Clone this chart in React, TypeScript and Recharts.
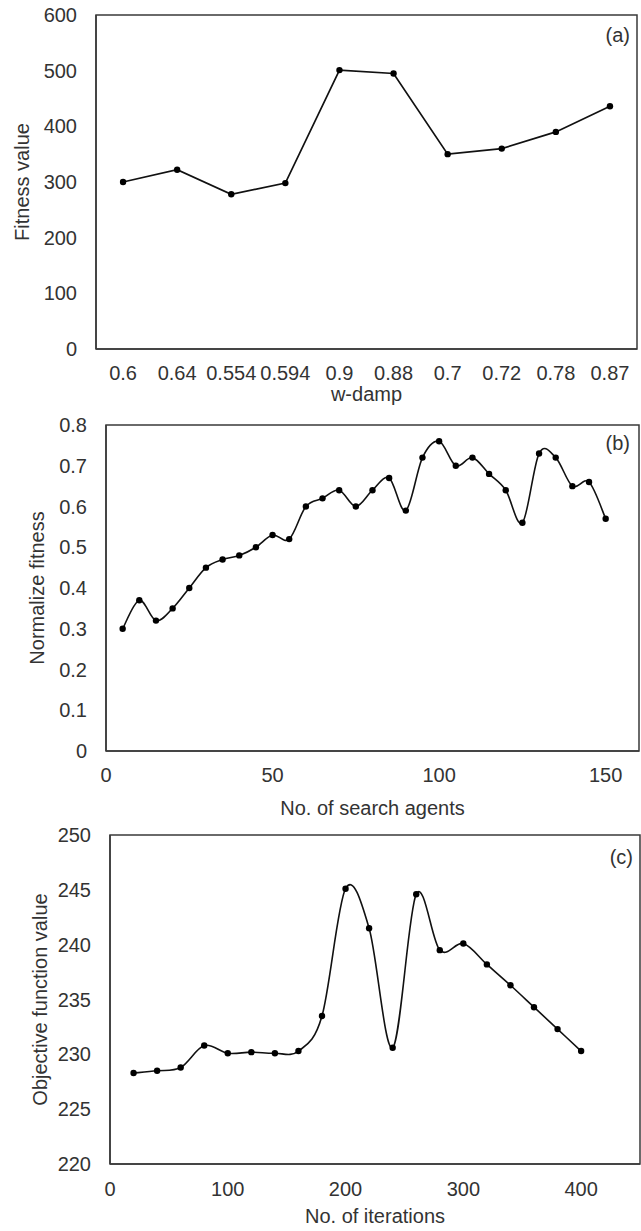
import { LineChart, Line, XAxis, YAxis, ReferenceArea } from 'recharts';

// (a) fitness vs w-damp
const dampLabels = ['0.6', '0.64', '0.554', '0.594', '0.9', '0.88', '0.7', '0.72', '0.78', '0.87'];
const dampFitness = [300, 322, 278, 298, 501, 495, 350, 360, 390, 436];
const fitnessDomain = [0, 600];
const fitnessTicks = [0, 100, 200, 300, 400, 500, 600];

// (b) normalized fitness vs number of search agents
const agentCounts = [5, 10, 15, 20, 25, 30, 35, 40, 45, 50, 55, 60, 65, 70, 75, 80, 85, 90, 95, 100, 105, 110, 115, 120, 125, 130, 135, 140, 145, 150];
const agentFitness = [0.3, 0.37, 0.32, 0.35, 0.4, 0.45, 0.47, 0.48, 0.5, 0.53, 0.52, 0.6, 0.62, 0.64, 0.6, 0.64, 0.67, 0.59, 0.72, 0.76, 0.7, 0.72, 0.68, 0.64, 0.56, 0.73, 0.72, 0.65, 0.66, 0.57];
const agentDomain = [0, 160];
const agentXTicks = [0, 50, 100, 150];
const normDomain = [0, 0.8];
const normTicks = [0, 0.1, 0.2, 0.3, 0.4, 0.5, 0.6, 0.7, 0.8];

// (c) objective value vs iterations
const iterations = [20, 40, 60, 80, 100, 120, 140, 160, 180, 200, 220, 240, 260, 280, 300, 320, 340, 360, 380, 400];
const objective = [228.3, 228.5, 228.8, 230.8, 230.1, 230.2, 230.1, 230.3, 233.5, 245.1, 241.5, 230.6, 244.6, 239.5, 240.1, 238.2, 236.3, 234.3, 232.3, 230.3];
const iterDomain = [0, 450];
const iterTicks = [0, 100, 200, 300, 400];
const objDomain = [220, 250];
const objTicks = [220, 225, 230, 235, 240, 245, 250];

const FONT = '"Liberation Sans", Arial, sans-serif';
const TEXT = '#333';
const FRAME = '#3a3a3a';

// excel-like smoothed line (catmull-rom through every point)
function smoothCurve(context: any) {
  let pts: number[][] = [];
  return {
    areaStart() {},
    areaEnd() {},
    lineStart() {
      pts = [];
    },
    point(x: number, y: number) {
      pts.push([+x, +y]);
    },
    lineEnd() {
      if (!pts.length) return;
      context.moveTo(pts[0][0], pts[0][1]);
      for (let i = 0; i < pts.length - 1; i++) {
        const p0 = pts[i - 1] || pts[i];
        const p1 = pts[i];
        const p2 = pts[i + 1];
        const p3 = pts[i + 2] || p2;
        context.bezierCurveTo(
          p1[0] + (p2[0] - p0[0]) / 6,
          p1[1] + (p2[1] - p0[1]) / 6,
          p2[0] - (p3[0] - p1[0]) / 6,
          p2[1] - (p3[1] - p1[1]) / 6,
          p2[0],
          p2[1]
        );
      }
    },
  };
}

const tickStyle = { fill: TEXT, fontSize: 20, fontFamily: FONT };
const frameLine = { stroke: FRAME, strokeWidth: 1.5 };
const dotStyle = { r: 3.2, fill: '#000', stroke: '#000', strokeWidth: 0 };

// box round the plot area (x left out = full width of the x axis)
function frame(y1: number, y2: number, x1?: number, x2?: number) {
  return <ReferenceArea x1={x1} x2={x2} y1={y1} y2={y2} fill="none" fillOpacity={0} stroke={FRAME} strokeWidth={1.5} />;
}

function yTitle(value: string, offset: number) {
  return {
    value,
    angle: -90,
    position: 'insideLeft' as const,
    offset,
    fill: TEXT,
    fontSize: 20,
    fontFamily: FONT,
    style: { textAnchor: 'middle' },
  };
}

function xTitle(value: string, offset: number) {
  return { value, position: 'insideBottom' as const, offset, fill: TEXT, fontSize: 20, fontFamily: FONT };
}

const panelTag = (text: string, top: number, right: number) => (
  <div
    style={{
      position: 'absolute',
      top,
      right,
      fontFamily: FONT,
      fontSize: 20,
      lineHeight: '20px',
      color: TEXT,
    }}
  >
    {text}
  </div>
);

export default function App() {
  const dampData = dampLabels.map((name, i) => ({ name, value: dampFitness[i] }));
  const agentData = agentCounts.map((x, i) => ({ x, value: agentFitness[i] }));
  const iterData = iterations.map((x, i) => ({ x, value: objective[i] }));

  return (
    <div style={{ position: 'absolute', left: 0, top: 0, width: 641, height: 1231, background: '#fff' }}>
      <div style={{ position: 'absolute', left: 0, top: 0 }}>
        <LineChart width={641} height={411} data={dampData} margin={{ top: 15, right: 4, bottom: 0, left: 0 }}>
          <XAxis dataKey="name" scale="band" tickLine={false} tickMargin={11} axisLine={frameLine} tick={tickStyle} interval={0} height={62} label={xTitle('w-damp', 10)} />
          <YAxis domain={fitnessDomain} ticks={fitnessTicks} width={96} tickLine={false} tickMargin={13} axisLine={frameLine} tick={tickStyle} label={yTitle('Fitness value', 22)} />
          {frame(fitnessDomain[0], fitnessDomain[1])}
          <Line type="linear" dataKey="value" stroke="#111" strokeWidth={1.7} dot={dotStyle} isAnimationActive={false} />
        </LineChart>
      </div>
      {panelTag('(a)', 25, 11)}

      <div style={{ position: 'absolute', left: 0, top: 405 }}>
        <LineChart width={641} height={420} data={agentData} margin={{ top: 20, right: 2, bottom: 0, left: 0 }}>
          <XAxis dataKey="x" type="number" domain={agentDomain} ticks={agentXTicks} tickLine={false} tickMargin={11} axisLine={frameLine} tick={tickStyle} height={74} label={xTitle('No. of search agents', 10)} />
          <YAxis domain={normDomain} ticks={normTicks} width={106} tickLine={false} tickMargin={13} axisLine={frameLine} tick={tickStyle} label={yTitle('Normalize fitness', 37)} />
          {frame(normDomain[0], normDomain[1], agentDomain[0], agentDomain[1])}
          <Line type={smoothCurve as any} dataKey="value" stroke="#111" strokeWidth={1.6} dot={dotStyle} isAnimationActive={false} />
        </LineChart>
      </div>
      {panelTag('(b)', 433, 11)}

      <div style={{ position: 'absolute', left: 0, top: 815 }}>
        <LineChart width={641} height={416} data={iterData} margin={{ top: 20, right: 1, bottom: 0, left: 0 }}>
          <XAxis dataKey="x" type="number" domain={iterDomain} ticks={iterTicks} tickLine={false} tickMargin={12} axisLine={frameLine} tick={tickStyle} height={67} label={xTitle('No. of iterations', 8)} />
          <YAxis domain={objDomain} ticks={objTicks} width={110} tickLine={false} tickMargin={13} axisLine={frameLine} tick={tickStyle} label={yTitle('Objective function value', 40)} />
          {frame(objDomain[0], objDomain[1], iterDomain[0], iterDomain[1])}
          <Line type={smoothCurve as any} dataKey="value" stroke="#111" strokeWidth={1.6} dot={dotStyle} isAnimationActive={false} />
        </LineChart>
      </div>
      {panelTag('(c)', 847, 8)}
    </div>
  );
}
